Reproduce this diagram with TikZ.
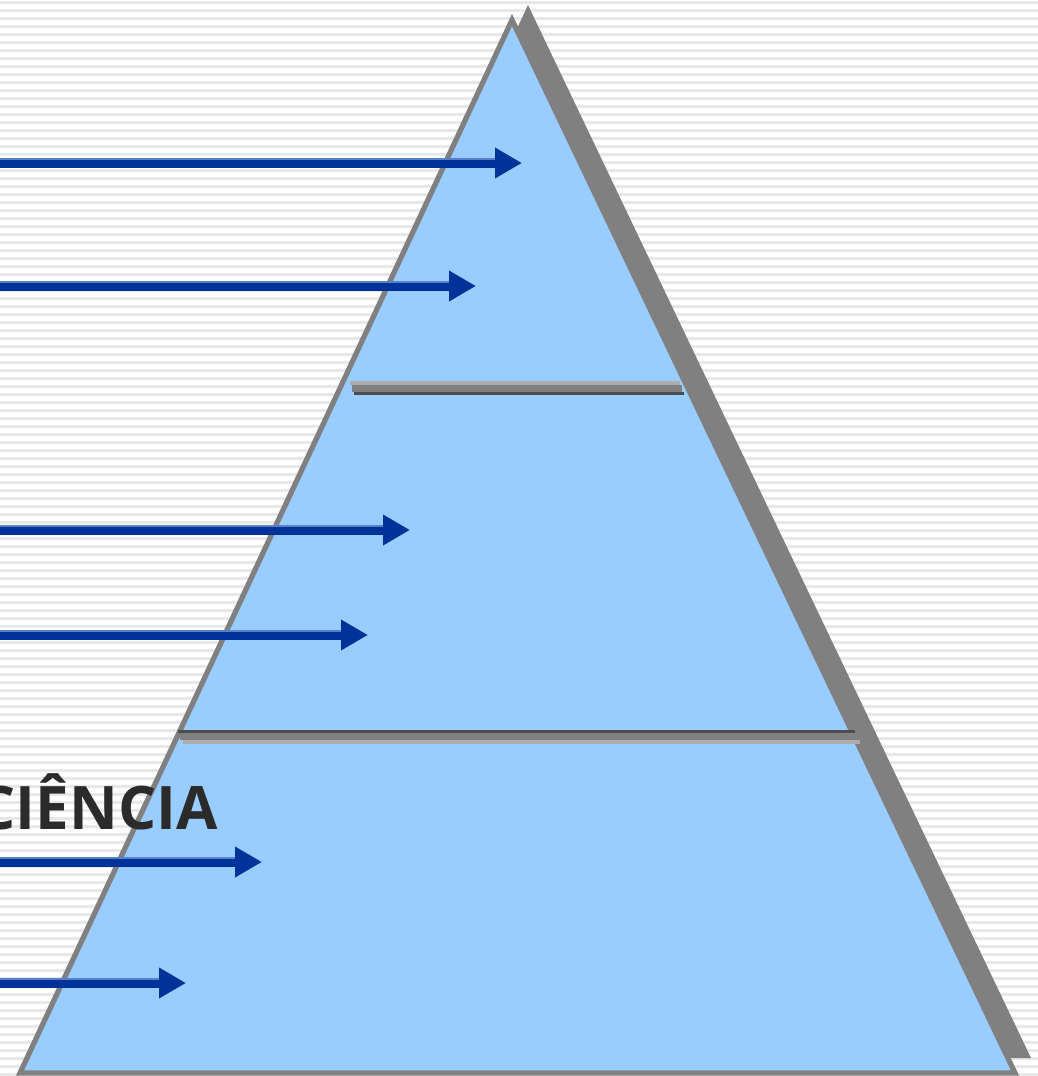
\documentclass[tikz,border=0pt]{standalone}
\usepackage{fontspec}
\setmainfont{Open Sans}
\usetikzlibrary{arrows.meta}

\definecolor{stripe}{HTML}{E8E8E8}
\definecolor{pyrfill}{HTML}{99CCFF}
\definecolor{pyredge}{HTML}{808080}
\definecolor{arrowblue}{HTML}{003399}
\definecolor{arrowlight}{HTML}{5A80C8}
\definecolor{bardark}{HTML}{4D4D4D}
\definecolor{barlight}{HTML}{ADADAD}
\definecolor{textgray}{HTML}{2B2B2B}

\begin{document}
\begin{tikzpicture}[x=0.5pt,y=-0.5pt]

      \useasboundingbox (0,0) rectangle (1038,1076);
      \clip (0,0) rectangle (1038,1076);

      % striped background
      \fill[white] (0,0) rectangle (1038,1076);
      \foreach \y in {2,10,...,1076}
        \draw[stripe,line width=1.5pt] (0,\y) -- (1038,\y);

      % pyramid corners
      \coordinate (top)   at (512,20);
      \coordinate (left)  at (20,1073);
      \coordinate (right) at (1015,1073);

      \fill[pyredge] ([shift={(16,-15)}]top) -- ([shift={(16,-15)}]left)
        -- ([shift={(16,-15)}]right) -- cycle;
      \filldraw[fill=pyrfill,draw=pyredge,line width=2.6pt,line join=miter]
        (top) -- (left) -- (right) -- cycle;

      % level bars
      \fill[barlight] (350,381) rectangle (680,385);
      \fill[pyredge]  (352,385) rectangle (682,392);
      \fill[bardark]  (354,392) rectangle (684,395);

      \fill[bardark]  (178,730) rectangle (855,733);
      \fill[pyredge]  (180,733) rectangle (857,740);
      \fill[barlight] (183,740) rectangle (860,744);

      % label
      \node[anchor=base east,inner sep=0pt,text=textgray,font=\bfseries\fontsize{30pt}{30pt}\selectfont]
        (sci) at (218,829) {CIÊNCIA};

      % arrow ends
      \coordinate (s1) at (-10,163); \coordinate (e1) at (522,163);
      \coordinate (s2) at (-10,286); \coordinate (e2) at (476,286);
      \coordinate (s3) at (-10,530); \coordinate (e3) at (410,530);
      \coordinate (s4) at (-10,635); \coordinate (e4) at (368,635);
      \coordinate (s5) at (-10,862); \coordinate (e5) at (262,862);
      \coordinate (s6) at (-10,983); \coordinate (e6) at (186,983);

      \begin{scope}[every edge/.style={draw,arrowblue,line width=5pt,
          -{Triangle[length=13.5pt,width=14.5pt]}}]
        \path (s1) edge (e1);
        \path (s2) edge (e2);
        \path (s3) edge (e3);
        \path (s4) edge (e4);
        \path (s5) edge (e5);
        \path (s6) edge (e6);
      \end{scope}

      % highlight on top of the shafts
      \begin{scope}[every edge/.style={draw,arrowlight,line width=1pt}]
        \path ([shift={(0,-4)}]s1) edge ([shift={(-27,-4)}]e1);
        \path ([shift={(0,-4)}]s2) edge ([shift={(-27,-4)}]e2);
        \path ([shift={(0,-4)}]s3) edge ([shift={(-27,-4)}]e3);
        \path ([shift={(0,-4)}]s4) edge ([shift={(-27,-4)}]e4);
        \path ([shift={(0,-4)}]s5) edge ([shift={(-27,-4)}]e5);
        \path ([shift={(0,-4)}]s6) edge ([shift={(-27,-4)}]e6);
      \end{scope}

    \end{tikzpicture}
\end{document}
